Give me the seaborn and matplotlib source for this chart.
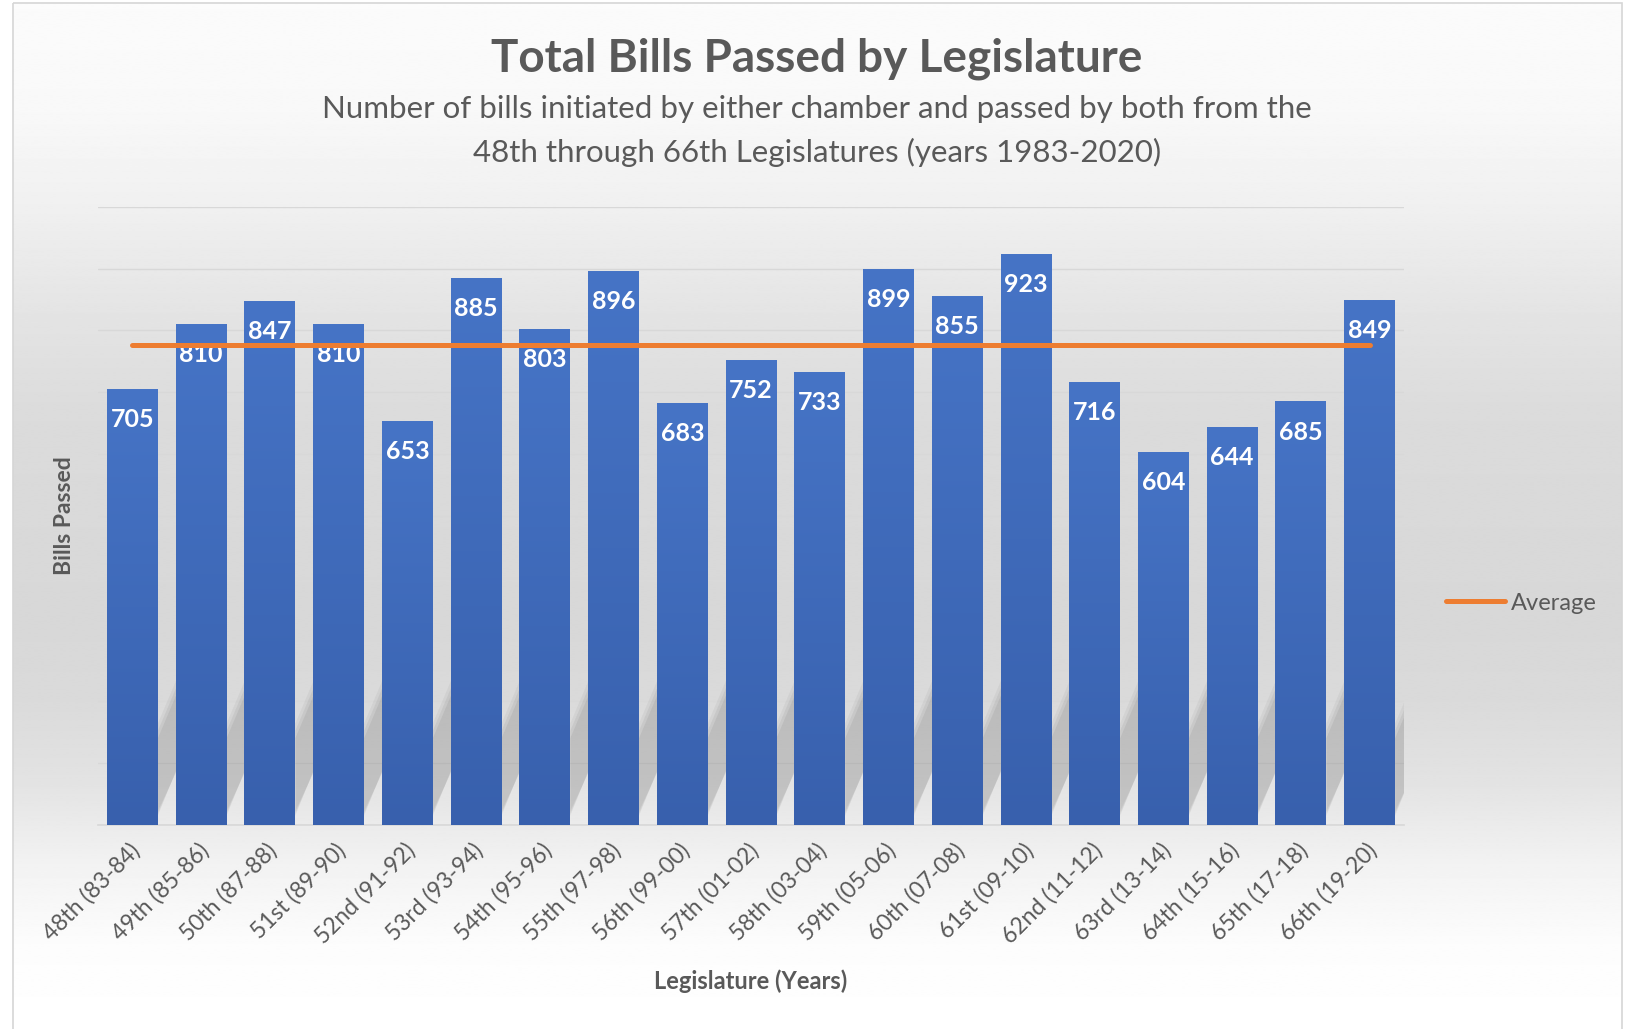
import numpy as np
import pandas as pd
import matplotlib
matplotlib.use("Agg")
import matplotlib.pyplot as plt
import matplotlib.transforms as mtransforms
from matplotlib.patches import Rectangle, Polygon
from matplotlib.colors import LinearSegmentedColormap
import seaborn as sns

# ---------------- data ----------------
legislatures = ["48th (83-84)", "49th (85-86)", "50th (87-88)", "51st (89-90)",
                "52nd (91-92)", "53rd (93-94)", "54th (95-96)", "55th (97-98)",
                "56th (99-00)", "57th (01-02)", "58th (03-04)", "59th (05-06)",
                "60th (07-08)", "61st (09-10)", "62nd (11-12)", "63rd (13-14)",
                "64th (15-16)", "65th (17-18)", "66th (19-20)"]
bills_passed = [705, 810, 847, 810, 653, 885, 803, 896, 683, 752, 733,
                899, 855, 923, 716, 604, 644, 685, 849]
title = "Total Bills Passed by Legislature"
subtitle_lines = ["Number of bills initiated by either chamber and passed by both from the",
                  "48th through 66th Legislatures (years 1983-2020)"]
y_label = "Bills Passed"
x_label = "Legislature (Years)"
legend_label = "Average"

# ---------------- style ----------------
sns.set_theme(style="white")
plt.rcParams["font.family"] = ["Lato", "DejaVu Sans"]

GRAY = "#595959"
BLUE_TOP = "#4674C6"
BLUE_BOT = "#3860AD"
ORANGE = "#ED7D31"

W, H = 1631, 1029
fig = plt.figure(figsize=(W / 100, H / 100), dpi=100)
fig.patch.set_facecolor("white")

# background gradient panel with border
bg = fig.add_axes([0, 0, 1, 1], zorder=-10)
bg.set_xlim(0, W)
bg.set_ylim(H, 0)
bg.axis("off")
stops_y = [0.0, 0.10, 0.20, 0.30, 0.40, 0.60, 0.68, 0.76, 0.84, 0.92, 1.0]
stops_v = [0.985, 0.975, 0.94, 0.895, 0.86, 0.845, 0.855, 0.89, 0.95, 0.99, 1.0]
yy = np.linspace(0, 1, 600)
vv = np.interp(yy, stops_y, stops_v)
bg.imshow(np.repeat(vv[:, None], 2, axis=1), cmap="gray", vmin=0, vmax=1,
          extent=[13, 1622, H, 3], aspect="auto", interpolation="bilinear")
bg.add_patch(Rectangle((13, 3), 1609, H, fill=False, ec="#d6d6d6", lw=1.2))

# main axes
ax = fig.add_axes([98 / W, 1 - 825 / H, (1404 - 98) / W, (825 - 206.7) / H])
ax.set_facecolor("none")

df = pd.DataFrame({"Legislature": legislatures, "Bills": bills_passed})
sns.barplot(data=df, x="Legislature", y="Bills", color=BLUE_TOP, width=0.74,
            saturation=1, ax=ax, zorder=3)

ax.set_xlim(-0.5, len(legislatures) - 0.5)
ax.set_ylim(0, 1000)
ax.set_yticks(np.arange(0, 1001, 100))
ax.set_yticklabels([])
ax.tick_params(axis="y", length=0)
ax.grid(axis="y", color="#d8d8d8", lw=1.0, zorder=0)
ax.set_axisbelow(True)
for s in ["top", "right", "left"]:
    ax.spines[s].set_visible(False)
ax.spines["bottom"].set_color("#d9d9d9")

# gradient fill of bars + soft perspective shadows
bar_cmap = LinearSegmentedColormap.from_list("bar", [BLUE_BOT, BLUE_TOP])
grad = np.linspace(1, 0, 256)[:, None]
bars = list(ax.patches)
for p in bars:
    x0, w, h = p.get_x(), p.get_width(), p.get_height()
    p.set_edgecolor("none")
    im = ax.imshow(grad, cmap=bar_cmap, vmin=0, vmax=1, aspect="auto",
                   extent=[x0, x0 + w, 0, h], zorder=3.5, interpolation="bilinear")
    im.set_clip_path(p)
    x1 = x0 + w
    gap = 1 - w
    for k, a in enumerate([0.04, 0.05, 0.06]):
        d = 12 * (2 - k)
        poly = Polygon([(x1, 15 + d * 0.3), (x1, 140 + d), (x1 + gap * 1.4, 235 + d),
                        (x1 + gap * 1.4, 115 - d * 0.3)],
                       closed=True, fc="black", ec="none", alpha=a, zorder=1)
        ax.add_patch(poly)
ax.set_xlim(-0.5, len(legislatures) - 0.5)
ax.set_ylim(0, 1000)

# average line
avg = float(np.mean(bills_passed))
line, = ax.plot([0, len(legislatures) - 1], [avg, avg], color=ORANGE, lw=3.6,
                solid_capstyle="round", zorder=6, label=legend_label)

# value labels
for p, v in zip(bars, bills_passed):
    ax.annotate(f"{v}", (p.get_x() + p.get_width() / 2, v), xytext=(0, -22),
                textcoords="offset points", ha="center", va="center",
                color="white", fontsize=18, fontweight="bold", zorder=5)

# tick labels
ax.tick_params(axis="x", length=0, pad=16)
ax.set_xticks(range(len(legislatures)))
ax.set_xticklabels(legislatures, rotation=45, ha="right", va="center",
                   rotation_mode="anchor", fontsize=16.5, color=GRAY)
offset = mtransforms.ScaledTranslation(4 / 100, 0, fig.dpi_scale_trans)
for lab in ax.get_xticklabels():
    lab.set_transform(lab.get_transform() + offset)

ax.set_xlabel(x_label, fontsize=17, fontweight="bold", color=GRAY)
ax.xaxis.set_label_coords(0.5, -(981 - 825) / (825 - 206.7))
ax.xaxis.label.set_va("center")
ax.set_ylabel(y_label, fontsize=16.5, fontweight="bold", color=GRAY)
ax.yaxis.set_label_coords((64.5 - 98) / (1404 - 98), 0.5)
ax.yaxis.label.set_va("center")

# titles
fig.text(817 / W, 1 - 59 / H, title, ha="center", va="center",
         fontsize=33, fontweight="bold", color=GRAY)
fig.text(817 / W, 1 - 109 / H, subtitle_lines[0], ha="center", va="center",
         fontsize=22.5, color=GRAY)
fig.text(817 / W, 1 - 152 / H, subtitle_lines[1], ha="center", va="center",
         fontsize=22.5, color=GRAY)

# legend
fig.legend(handles=[line], labels=[legend_label], loc="center left",
           bbox_to_anchor=(1446 / W, 1 - 603 / H), frameon=False, fontsize=17,
           handlelength=2.5, handletextpad=0.25, borderpad=0, borderaxespad=0,
           labelcolor=GRAY)

fig.savefig("out.png", dpi=100)
